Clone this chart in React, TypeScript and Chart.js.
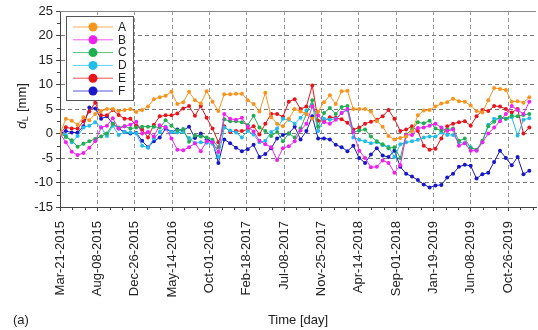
import React, { useEffect, useRef } from 'react';
import { Chart, registerables } from 'chart.js';

Chart.register(...registerables);

// Acquisition days since Mar-21-2015
const days = [0,22,44,66,88,110,132,154,176,198,220,242,264,286,308,330,352,374,396,418,440,462,484,506,528,550,572,594,616,638,660,682,704,726,748,770,792,814,836,858,880,902,924,946,968,990,1012,1034,1056,1078,1100,1122,1144,1166,1188,1210,1232,1254,1276,1298,1320,1342,1364,1386,1408,1430,1452,1474,1496,1518,1540,1562,1584,1606,1628,1650,1672,1694,1716,1738,1760];

const seriesA = [0,3.0,2.6,1.8,3.3,2.7,4.0,4.6,5.0,5.0, 4.6,4.8,5.0,4.4,4.8,5.5,7.0,7.4,7.7,8.5, 6.0,6.4,8.5,6.8,6.1,8.6,6.5,4.6,8.0,8.0, 8.1,8.1,6.8,6.0,4.5,8.3,3.3,2.0,1.5,3.0, 5.0,4.5,4.0,3.0,4.5,6.4,7.8,6.0,8.6,8.7, 5.0,5.0,5.0,4.5,2.5,1.4,-0.5,-1.2,-0.9,-0.6, 0.5,3.7,4.7,4.8,5.5,6.1,6.4,7.1,6.6,6.5, 5.7,4.6,4.3,6.8,9.3,9.1,8.9,6.5,6.6,6.3, 7.4];
const seriesB = [0,-1.8,-3.7,-4.4,-4.0,-2.9,-1.6,1.2,1.6,3.1, 1.0,1.5,1.8,2.4,0.0,0.3,-0.6,1.7,1.2,-1.0, -3.3,-3.4,-2.8,-2.0,-3.6,-1.6,-1.8,-3.8,4.0,3.0, 2.8,3.2,1.4,0.4,-1.5,-2.2,-2.8,-5.4,-3.0,-2.6, -1.6,0.6,2.0,5.5,3.7,2.3,2.0,2.8,4.2,5.0, 0.3,-3.5,-5.0,-6.9,-6.8,-5.5,-6.0,-8.0,-6.5,-0.3, -0.3,1.1,1.2,1.6,2.0,1.2,0.5,0.8,-2.5,-2.0, -3.5,-3.5,-1.8,0.0,1.2,2.5,4.0,5.6,4.8,4.0, 6.5];
const seriesC = [0,-0.7,-1.4,-2.7,-2.1,-1.6,-1.1,-0.6,0.0,2.0, 1.2,1.5,1.0,1.2,1.4,1.4,1.4,1.2,2.7,1.6, 0.6,0.9,-1.7,-0.4,-0.6,-0.8,-1.3,-2.8,2.9,2.5, 2.5,2.3,1.7,3.6,1.2,0.5,-0.5,0.3,-1.6,0.0, -0.8,1.0,4.0,6.8,1.4,4.2,5.2,4.0,5.4,5.6, 0.3,0.6,0.8,-0.6,-1.6,-2.2,-3.0,-2.8,-5.0,-0.2, 0.8,2.3,2.1,2.6,1.0,0.6,0.8,1.0,-1.5,-1.0, -3.0,-3.3,-1.5,1.5,2.4,3.4,3.0,3.6,3.5,3.8, 4.0];
const seriesD = [0,-0.3,-1.8,-0.5,1.2,1.6,2.3,1.3,-0.5,1.6, -0.3,0.3,0.2,0.0,-2.5,-2.9,-1.0,0.3,1.4,0.3, 0.2,0.3,-0.9,-2.0,-1.8,-1.9,-2.1,-4.8,1.2,0.6, 0.2,-0.8,0.5,-0.2,-1.8,-1.5,0.3,1.0,3.0,2.8, 2.0,3.2,4.7,5.8,0.5,3.0,2.8,3.0,4.2,4.8, -0.8,-1.3,-1.6,-2.0,-1.8,-2.4,-2.7,-4.8,-2.2,-1.8, -1.6,-1.3,-0.8,-0.6,-0.6,0.2,-0.3,-0.3,-1.8,-2.0, -2.8,-3.4,-1.8,1.8,3.0,3.1,3.0,3.3,-0.4,2.8, 3.1];
const seriesE = [0,1.3,1.0,1.0,2.5,4.5,6.3,3.7,3.7,4.8, 3.8,3.0,3.0,1.6,0.8,-0.8,1.8,3.5,3.7,3.7, 4.1,5.1,5.6,3.6,5.6,3.2,1.0,-1.8,1.5,0.3, 0.5,0.5,0.8,1.5,-0.2,2.0,4.0,4.0,3.4,6.5, 7.0,5.0,5.5,9.8,2.6,2.5,3.3,3.2,2.9,2.2, 0.8,1.2,2.0,2.4,2.8,3.5,4.8,3.0,0.5,0.8, 1.5,0.5,-2.5,-3.3,-3.1,-1.0,1.5,2.0,2.3,2.5, 1.6,3.5,4.8,4.6,5.6,5.5,5.0,4.3,5.0,0.0, 1.2];
const seriesF = [0,0.5,0.2,0.2,1.5,5.3,5.1,3.0,3.5,2.0, 1.0,0.3,0.0,0.1,-1.5,-2.8,-1.6,-0.8,1.0,0.3, 0.8,0.6,1.4,-0.9,0.0,-1.2,-1.7,-6.0,-1.2,-2.0, -2.9,-3.6,-3.2,-2.3,-4.8,-4.2,-3.0,-1.0,-0.3,0.0, 1.4,-1.2,0.5,3.5,-1.0,-1.0,-1.2,-2.3,-2.8,-3.6, -2.5,-5.0,-6.0,-4.3,-3.0,-4.5,-4.8,-3.5,-6.8,-8.2, -8.8,-9.5,-10.4,-11.0,-10.6,-10.5,-9.0,-8.2,-6.8,-6.4, -6.6,-9.2,-8.3,-8.0,-5.8,-3.5,-5.0,-6.5,-4.8,-8.3, -7.6];

const seriesNames = ['A', 'B', 'C', 'D', 'E', 'F'];
const seriesValues = [seriesA, seriesB, seriesC, seriesD, seriesE, seriesF];
const seriesColors = ['#F7941D', '#EE22EE', '#1FAF50', '#22BCEB', '#E6151B', '#1818C8'];

const tickDays = [0, 140, 280, 420, 560, 700, 840, 980, 1120, 1260, 1400, 1540, 1680];
const tickLabels = ['Mar-21-2015', 'Aug-08-2015', 'Dec-26-2015', 'May-14-2016', 'Oct-01-2016', 'Feb-18-2017', 'Jul-08-2017', 'Nov-25-2017', 'Apr-14-2018', 'Sep-01-2018', 'Jan-19-2019', 'Jun-08-2019', 'Oct-26-2019'];
const yTicks = [-15, -10, -5, 0, 5, 10, 15, 20, 25];
const X_MAX = 1785;
const Y_MIN = -15;
const Y_MAX = 25;

const FONT = "'Liberation Sans', Arial, Helvetica, sans-serif";

const decorPlugin = {
  id: 'decor',
  afterDraw(chart: any) {
    const { ctx, chartArea: ca, scales } = chart;
    const xs = scales.x;
    const ys = scales.y;
    ctx.save();
    // top frame line
    ctx.strokeStyle = '#8a8a8a';
    ctx.lineWidth = 1;
    ctx.beginPath();
    ctx.moveTo(ca.left, Math.round(ca.top) + 0.5);
    ctx.lineTo(ca.right, Math.round(ca.top) + 0.5);
    ctx.stroke();

    // minor ticks
    ctx.strokeStyle = '#444';
    ctx.beginPath();
    const step = tickDays[1] - tickDays[0];
    for (let t = 0; t < X_MAX; t += step) {
      for (const f of [1 / 3, 2 / 3]) {
        const v = t + step * f;
        if (v > X_MAX) continue;
        const px = Math.round(xs.getPixelForValue(v)) + 0.5;
        ctx.moveTo(px, ca.bottom);
        ctx.lineTo(px, ca.bottom + 3);
      }
    }
    for (let v = Y_MIN + 2.5; v < Y_MAX; v += 5) {
      const py = Math.round(ys.getPixelForValue(v)) + 0.5;
      ctx.moveTo(ca.left, py);
      ctx.lineTo(ca.left - 3, py);
    }
    ctx.stroke();

    // legend
    const lx = 66.5, ly = 16.5, lw = 67, lh = 84;
    ctx.fillStyle = '#ffffff';
    ctx.fillRect(lx, ly, lw, lh);
    ctx.strokeStyle = '#555';
    ctx.lineWidth = 1;
    ctx.strokeRect(lx, ly, lw, lh);
    ctx.font = `12px ${FONT}`;
    ctx.textBaseline = 'middle';
    ctx.textAlign = 'left';
    seriesNames.forEach((name, i) => {
      const yy = 27 + i * 12.8;
      ctx.strokeStyle = seriesColors[i];
      ctx.globalAlpha = 0.75;
      ctx.beginPath();
      ctx.moveTo(73, yy);
      ctx.lineTo(113, yy);
      ctx.stroke();
      ctx.globalAlpha = 1;
      ctx.fillStyle = seriesColors[i];
      ctx.beginPath();
      ctx.arc(93, yy, 4.5, 0, Math.PI * 2);
      ctx.fill();
      ctx.fillStyle = '#222';
      ctx.fillText(name, 118, yy + 0.5);
    });

    // y axis title: d_L [mm]
    ctx.save();
    ctx.translate(21, (ca.top + ca.bottom) / 2 - 3);
    ctx.rotate(-Math.PI / 2);
    ctx.textBaseline = 'alphabetic';
    ctx.textAlign = 'left';
    const fMain = `13px ${FONT}`;
    const fItal = `italic 13px ${FONT}`;
    const fSub = `9px ${FONT}`;
    ctx.font = fItal; const wd = ctx.measureText('d').width;
    ctx.font = fSub; const wl = ctx.measureText('L').width;
    ctx.font = fMain; const wm = ctx.measureText(' [mm]').width;
    const total = wd + wl + 1 + wm;
    let cx = -total / 2;
    ctx.fillStyle = '#222';
    ctx.font = fItal; ctx.fillText('d', cx, 4.5); cx += wd + 0.5;
    ctx.font = fSub; ctx.fillText('L', cx, 7); cx += wl + 0.5;
    ctx.font = fMain; ctx.fillText(' [mm]', cx, 4.5);
    ctx.restore();

    // panel tag
    ctx.font = `13px ${FONT}`;
    ctx.fillStyle = '#222';
    ctx.textAlign = 'left';
    ctx.textBaseline = 'middle';
    ctx.fillText('(a)', 13, 320);
    ctx.restore();
  },
};

export default function App() {
  const canvasRef = useRef<HTMLCanvasElement | null>(null);

  useEffect(() => {
    const canvas = canvasRef.current;
    if (!canvas) return;
    const chart = new Chart(canvas, {
      type: 'line',
      data: {
        datasets: seriesNames.map((name, k) => ({
          label: name,
          data: days.map((d, i) => ({ x: d, y: seriesValues[k][i] })),
          borderColor: seriesColors[k],
          backgroundColor: seriesColors[k],
          borderWidth: 1,
          pointRadius: 2,
          pointBorderWidth: 0,
          pointHoverRadius: 2,
          tension: 0,
          fill: false,
        })),
      },
      options: {
        responsive: false,
        animation: false,
        events: [],
        layout: { padding: { top: 11, left: 0, right: 0, bottom: 0 } },
        plugins: { legend: { display: false }, tooltip: { enabled: false } },
        scales: {
          x: {
            type: 'linear',
            min: 0,
            max: X_MAX,
            afterBuildTicks: (s: any) => { s.ticks = tickDays.map((v) => ({ value: v })); },
            afterFit: (s: any) => { s.height = 123; },
            ticks: {
              autoSkip: false,
              minRotation: 90,
              maxRotation: 90,
              padding: 10,
              color: '#222',
              font: { family: FONT, size: 13 },
              callback: (_v: any, i: number) => tickLabels[i],
            },
            grid: {
              color: (c: any) => (c.tick && c.tick.value === 0 ? 'rgba(0,0,0,0)' : '#9a9a9a'),
              lineWidth: 1,
              tickLength: 4,
              tickColor: '#444',
            },
            border: { display: true, color: '#444', width: 1, dash: [4, 3] },
            title: {
              display: true,
              text: 'Time [day]',
              color: '#222',
              font: { family: FONT, size: 13 },
              padding: { top: 0, bottom: 2 },
            },
          },
          y: {
            min: Y_MIN,
            max: Y_MAX,
            afterBuildTicks: (s: any) => { s.ticks = yTicks.map((v) => ({ value: v })); },
            afterFit: (s: any) => { s.width = 60; },
            ticks: {
              padding: 3,
              color: '#222',
              font: { family: FONT, size: 13 },
            },
            grid: {
              color: (c: any) => (c.tick && (c.tick.value === Y_MIN || c.tick.value === Y_MAX) ? 'rgba(0,0,0,0)' : '#777'),
              lineWidth: 1,
              tickLength: 4,
              tickColor: '#444',
            },
            border: { display: true, color: '#444', width: 1, dash: [4, 3] },
          },
        },
      },
      plugins: [decorPlugin],
    } as any);
    return () => chart.destroy();
  }, []);

  return (
    <div style={{ position: 'absolute', left: 0, top: 0, width: 538, height: 330, background: '#fff' }}>
      <canvas ref={canvasRef} width={538} height={330} style={{ display: 'block' }} />
    </div>
  );
}
